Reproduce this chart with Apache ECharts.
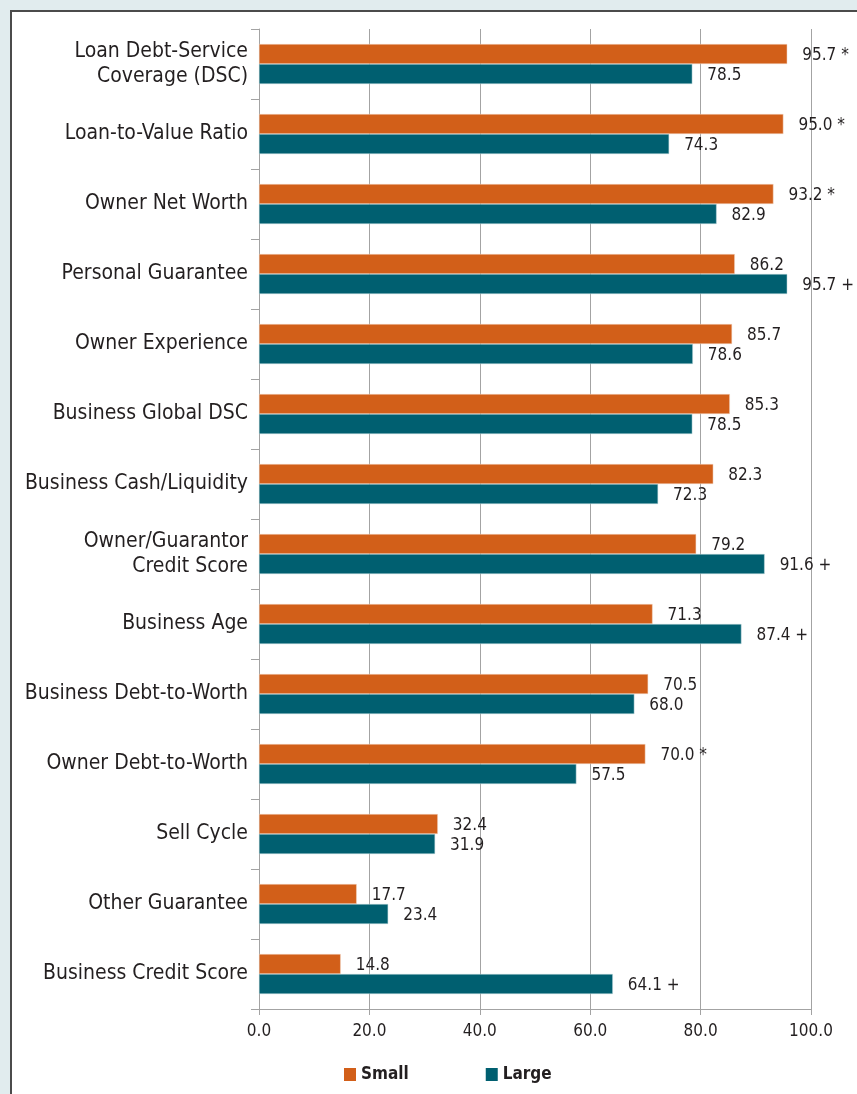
<!DOCTYPE html>
<html>
<head>
<meta charset="utf-8">
<script src="https://cdn.jsdelivr.net/npm/echarts@6/dist/echarts.min.js"></script>
<style>
  html, body { margin: 0; padding: 0; background: #e1ecee; }
  #frame {
    position: absolute; left: 10px; top: 10px; width: 847px; height: 1084px;
    background: #ffffff; border-top: 2px solid #4b4b4b; border-left: 2px solid #4b4b4b;
    box-sizing: border-box;
  }
  #chart { position: absolute; left: 0; top: 0; width: 857px; height: 1094px; }
</style>
</head>
<body>
<div id="frame"></div>
<div id="chart"></div>
<script>
// categories, top to bottom
var categories = [
    'Loan Debt-Service\nCoverage (DSC)',
    'Loan-to-Value Ratio',
    'Owner Net Worth',
    'Personal Guarantee',
    'Owner Experience',
    'Business Global DSC',
    'Business Cash/Liquidity',
    'Owner/Guarantor\nCredit Score',
    'Business Age',
    'Business Debt-to-Worth',
    'Owner Debt-to-Worth',
    'Sell Cycle',
    'Other Guarantee',
    'Business Credit Score'
]
var smallValues = [95.7, 95.0, 93.2, 86.2, 85.7, 85.3, 82.3, 79.2, 71.3, 70.5, 70.0, 32.4, 17.7, 14.8]
var largeValues = [78.5, 74.3, 82.9, 95.7, 78.6, 78.5, 72.3, 91.6, 87.4, 68.0, 57.5, 31.9, 23.4, 64.1]
// significance marks shown after the value
var smallMarks = ['*', '*', '*', '', '', '', '', '', '', '', '*', '', '', '']
var largeMarks = ['', '', '', '+', '', '', '', '+', '+', '', '', '', '', '+']
var xTicks = [0, 20, 40, 60, 80, 100]

var FONT = '"Liberation Sans Narrow", "DejaVu Sans Condensed", sans-serif'
var TEXT = '#231f20'

var chart = echarts.init(document.getElementById('chart'), null, {renderer: 'canvas'})

function labelFor(marks) {
    return function (p) {
        var m = marks[p.dataIndex]
        return p.value.toFixed(1) + (m ? ' ' + m : '')
    }
}

var option = {
    backgroundColor: 'transparent',
    animation: false,
    grid: {left: 259, right: 46, top: 29, bottom: 85, containLabel: false},
    legend: {
        data: ['Small', 'Large'],
        left: 344, top: 1066, padding: 0,
        icon: 'rect', itemWidth: 12, itemHeight: 13, itemGap: 77,
        itemStyle: {borderWidth: 0},
        textStyle: {fontFamily: FONT, fontSize: 17, fontWeight: 'bold', color: TEXT}
    },
    xAxis: {
        type: 'value', min: xTicks[0], max: xTicks[xTicks.length - 1], interval: 20,
        axisLine: {show: true, lineStyle: {color: '#a3a3a3', width: 1}},
        axisTick: {show: true, length: 6, lineStyle: {color: '#a3a3a3'}},
        splitLine: {show: true, lineStyle: {color: '#a3a3a3', width: 1}},
        axisLabel: {
            margin: 14, fontFamily: FONT, fontSize: 17, color: TEXT,
            formatter: function (v) { return v.toFixed(1) }
        }
    },
    yAxis: {
        type: 'category', data: categories, inverse: true,
        axisLine: {show: true, lineStyle: {color: '#a3a3a3', width: 1}},
        axisTick: {show: true, length: 8, lineStyle: {color: '#a3a3a3'}},
        axisLabel: {margin: 11, fontFamily: FONT, fontSize: 21, lineHeight: 25, color: TEXT}
    },
    series: [
        {
            name: 'Small', type: 'bar', data: smallValues,
            barWidth: 20, barGap: '0%',
            itemStyle: {color: '#d25f19', borderColor: '#f3d9c8', borderWidth: 0.5},
            label: {
                show: true, position: 'right', distance: 15, offset: [0, 2],
                fontFamily: FONT, fontSize: 17, color: TEXT,
                formatter: labelFor(smallMarks)
            }
        },
        {
            name: 'Large', type: 'bar', data: largeValues,
            barWidth: 20, barGap: '0%',
            itemStyle: {color: '#005f70', borderColor: '#bfd8dc', borderWidth: 0.5},
            label: {
                show: true, position: 'right', distance: 15, offset: [0, 2],
                fontFamily: FONT, fontSize: 17, color: TEXT,
                formatter: labelFor(largeMarks)
            }
        }
    ]
}

chart.setOption(option)
</script>
</body>
</html>
